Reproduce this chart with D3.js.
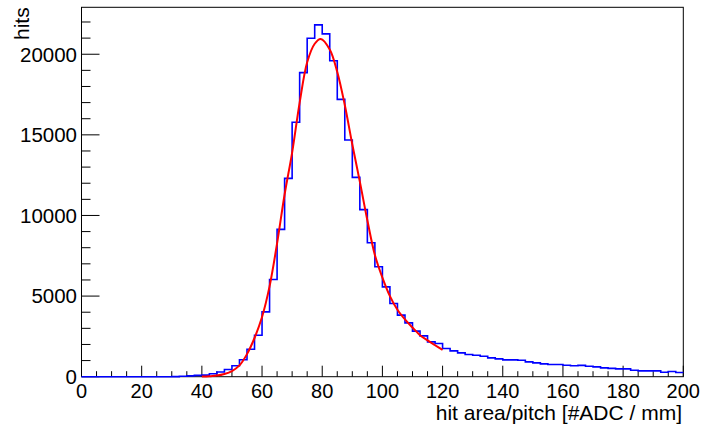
<!DOCTYPE html>
<html><head><meta charset="utf-8">
<script src="https://cdn.jsdelivr.net/npm/d3@7"></script>
<style>html,body{margin:0;padding:0;background:#fff;}svg{display:block;}</style>
</head><body>
<script>
// Histogram: 80 bins of width 2.5 from 0 to 200
const binStart = 0;
const binWidth = 2.5;
const counts = [
  0,0,0,0,0,0,0,0,0,0,0,0,5,30,50,80,100,180,290,450,
  680,1050,1707,2575,4020,6030,9135,12300,15780,18860,20990,21820,21260,19600,17200,14680,12360,10360,8305,6816,
  5574,4544,3817,3340,2824,2533,2160,2060,1750,1600,1480,1378,1335,1272,1167,1105,1043,1043,1024,919,
  857,795,757,757,714,676,700,652,610,546,515,484,484,403,360,360,360,280,320,260
];
// Fit curve sampled points (x, value)
const fitX = [40,42.5,45,47.5,50,52.5,55,57.5,60,62.5,65,67.5,70,72.5,75,77.5,79.5,82.5,85,87.5,90,92.5,95,97.5,100,102.5,105,107.5,110,112.5,115,117.5,120];
const fitY = [10,30,70,170,350,700,1400,2400,3700,5600,8270,11300,13900,17000,19500,20650,20950,20300,18900,16850,14400,12100,9700,7550,6150,5000,4150,3550,3050,2576,2250,1950,1660];
const xTicks = [0,20,40,60,80,100,120,140,160,180,200];
const yTicks = [0,5000,10000,15000,20000];
const xTitle = "hit area/pitch [#ADC / mm]";
const yTitle = "hits";

const W = 702, H = 427;
const svg = d3.select("body").append("svg").attr("width", W).attr("height", H);
const font = "'Liberation Sans', Arial, Helvetica, sans-serif";

const x = d3.scaleLinear().domain([0, 200]).range([81.5, 683.3]);
const yMax = d3.max(counts) * 1.05;
const y = d3.scaleLinear().domain([0, yMax]).range([376.7, 7.3]);

// Frame
svg.append("rect").attr("x", x(0)).attr("y", y(yMax)).attr("width", x(200) - x(0)).attr("height", y(0) - y(yMax))
  .attr("fill", "none").attr("stroke", "#000").attr("stroke-width", 1);

// X axis
const xMinor = d3.range(0, 200.01, 5);
const gx = svg.append("g");
gx.selectAll("line.minor").data(xMinor).enter().append("line")
  .attr("x1", d => x(d)).attr("x2", d => x(d))
  .attr("y1", y(0)).attr("y2", d => y(0) - (d % 20 === 0 ? 11 : 5.5))
  .attr("stroke", "#000").attr("stroke-width", 1);
gx.selectAll("text").data(xTicks).enter().append("text")
  .attr("x", d => x(d)).attr("y", 398).attr("text-anchor", "middle")
  .attr("font-family", font).attr("font-size", 20).attr("fill", "#000").text(d => d);

// Y axis
const yMinor = d3.range(0, yMax, 1000);
const gy = svg.append("g");
gy.selectAll("line").data(yMinor).enter().append("line")
  .attr("y1", d => y(d)).attr("y2", d => y(d))
  .attr("x1", x(0)).attr("x2", d => x(0) + (d % 5000 === 0 ? 18 : 9))
  .attr("stroke", "#000").attr("stroke-width", 1);
gy.selectAll("text").data(yTicks).enter().append("text")
  .attr("x", 77).attr("y", d => y(d)).attr("dy", "0.36em").attr("text-anchor", "end")
  .attr("font-family", font).attr("font-size", 20.5).attr("fill", "#000").text(d => d);

// Titles
svg.append("text").attr("x", 682).attr("y", 420).attr("text-anchor", "end")
  .attr("font-family", font).attr("font-size", 21).attr("fill", "#000").text(xTitle);
svg.append("text").attr("transform", `translate(28.5,${y(yMax)}) rotate(-90)`).attr("text-anchor", "end")
  .attr("font-family", font).attr("font-size", 21).attr("fill", "#000").text(yTitle);

// Histogram step line
const pts = [];
counts.forEach((c, i) => {
  const lo = binStart + i * binWidth, hi = lo + binWidth;
  pts.push([x(lo), y(c)], [x(hi), y(c)]);
});
svg.append("path").attr("d", d3.line()(pts)).attr("fill", "none")
  .attr("stroke", "#0000ff").attr("stroke-width", 1.6);

// Fit curve
const fit = fitX.map((v, i) => [x(v), y(fitY[i])]);
svg.append("path").attr("d", d3.line().curve(d3.curveCatmullRom)(fit)).attr("fill", "none")
  .attr("stroke", "#ff0000").attr("stroke-width", 2);
</script>
</body></html>
